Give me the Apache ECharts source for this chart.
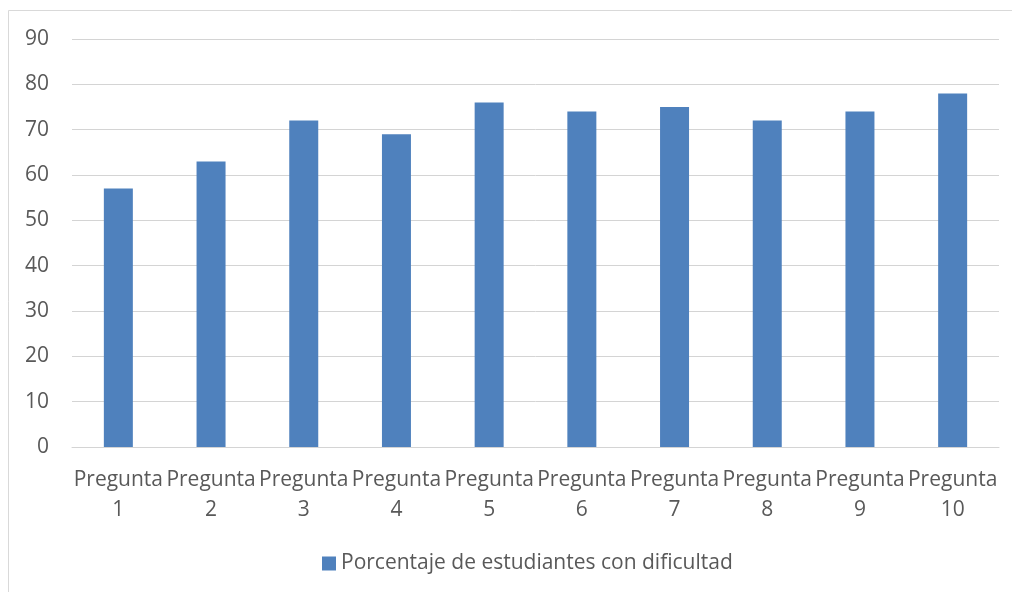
<!DOCTYPE html>
<html>
<head>
<meta charset="utf-8">
<script src="https://cdn.jsdelivr.net/npm/echarts@6/dist/echarts.min.js"></script>
<style>
html,body{margin:0;padding:0;background:#fff;}
#c{width:1012px;height:592px;}
</style>
</head>
<body>
<div id="c"></div>
<script>
var categories = ['Pregunta\n1','Pregunta\n2','Pregunta\n3','Pregunta\n4','Pregunta\n5','Pregunta\n6','Pregunta\n7','Pregunta\n8','Pregunta\n9','Pregunta\n10'];
var values = [57, 63, 72, 69, 76, 74, 75, 72, 74, 78];
var seriesName = 'Porcentaje de estudiantes con dificultad';

var FONT = '"Open Sans", Lato, sans-serif';
var TXT = '#595959';
var chart = echarts.init(document.getElementById('c'), null, {renderer: 'canvas'});
chart.setOption({
  animation: false,
  backgroundColor: '#fff',
  graphic: [{
    type: 'rect',
    shape: {x: 8.5, y: 10.5, width: 1010, height: 600},
    style: {fill: 'none', stroke: '#d9d9d9', lineWidth: 1},
    silent: true
  }],
  grid: {left: 72, right: 13, top: 39, bottom: 145, containLabel: false},
  legend: {
    data: [seriesName],
    top: 548,
    left: 317,
    icon: 'rect',
    itemWidth: 14,
    itemHeight: 14,
    itemGap: 6,
    textStyle: {color: TXT, fontSize: 21, fontFamily: FONT}
  },
  xAxis: {
    type: 'category',
    data: categories,
    axisLine: {show: true, lineStyle: {color: '#d4d4d4', width: 1}},
    axisTick: {show: false},
    axisLabel: {
      interval: 0,
      color: TXT,
      fontSize: 21,
      fontFamily: FONT,
      lineHeight: 30,
      margin: 18
    }
  },
  yAxis: {
    type: 'value',
    min: 0,
    max: 90,
    interval: 10,
    axisLine: {show: false},
    axisTick: {show: false},
    splitLine: {lineStyle: {color: '#d4d4d4', width: 1}},
    axisLabel: {color: TXT, fontSize: 21, fontFamily: FONT, margin: 23}
  },
  series: [{
    name: seriesName,
    type: 'bar',
    data: values,
    barWidth: 29,
    itemStyle: {color: '#4f81bd'}
  }]
});
</script>
</body>
</html>
